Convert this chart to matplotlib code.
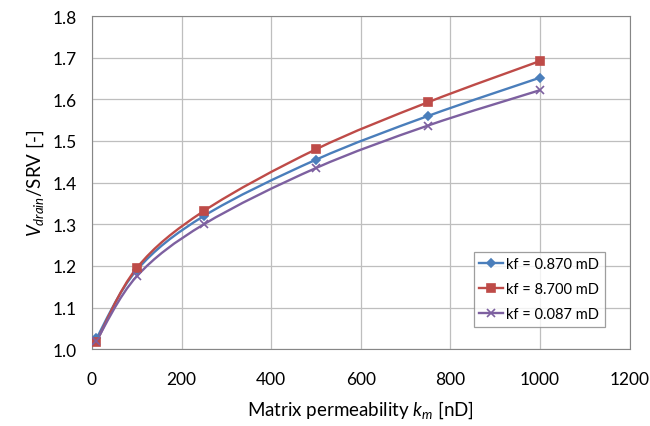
import numpy as np
import matplotlib.pyplot as plt
from matplotlib.path import Path
from matplotlib.patches import PathPatch

plt.rcParams['font.family'] = ['Lato', 'DejaVu Sans']
plt.rcParams['mathtext.fontset'] = 'custom'
plt.rcParams['mathtext.it'] = 'Lato:italic'
plt.rcParams['mathtext.rm'] = 'Lato'

# data
km = [10, 100, 250, 500, 750, 1000]
kf_0870 = [1.026, 1.190, 1.320, 1.455, 1.560, 1.652]
kf_8700 = [1.018, 1.195, 1.332, 1.480, 1.593, 1.692]
kf_0087 = [1.020, 1.175, 1.300, 1.435, 1.537, 1.622]
labels = ["kf = 0.870 mD", "kf = 8.700 mD", "kf = 0.087 mD"]
colors = ["#4A7EBB", "#BE4B48", "#7D60A0"]
markers = ["D", "s", "x"]
msizes = [4, 5.5, 6]


def smooth_path(x, y):
    # Excel style smoothed line: cubic bezier through the points
    x = np.asarray(x, float)
    y = np.asarray(y, float)
    n = len(x)
    verts = [(x[0], y[0])]
    codes = [Path.MOVETO]
    for i in range(n - 1):
        x0, y0 = (x[i - 1], y[i - 1]) if i > 0 else (x[i], y[i])
        x3, y3 = (x[i + 2], y[i + 2]) if i + 2 < n else (x[i + 1], y[i + 1])
        c1 = (x[i] + (x[i + 1] - x0) / 6, y[i] + (y[i + 1] - y0) / 6)
        c2 = (x[i + 1] - (x3 - x[i]) / 6, y[i + 1] - (y3 - y[i]) / 6)
        verts += [c1, c2, (x[i + 1], y[i + 1])]
        codes += [Path.CURVE4] * 3
    return Path(verts, codes)


fig = plt.figure(figsize=(6.5, 4.27), dpi=100)
ax = fig.add_axes([0.1415, 0.18, 0.827, 0.78])

for ys, lab, c, m, ms in zip([kf_0870, kf_8700, kf_0087], labels, colors, markers, msizes):
    ax.add_patch(PathPatch(smooth_path(km, ys), fill=False, edgecolor=c, lw=1.7, zorder=3))
    ax.plot(km, ys, ls="none", marker=m, color=c, ms=ms, mew=1.2, zorder=4)
    ax.plot([], [], color=c, marker=m, lw=1.7, ms=ms, mew=1.2, label=lab)

ax.set_xlim(0, 1200)
ax.set_ylim(1.0, 1.8)
ax.set_xticks(np.arange(0, 1201, 200))
ax.set_yticks(np.arange(1.0, 1.81, 0.1))
ax.yaxis.set_major_formatter(plt.FormatStrFormatter('%.1f'))
ax.grid(True, color="#BEBEBE", lw=0.9)
ax.set_axisbelow(True)
for s in ax.spines.values():
    s.set_color("#868686")
ax.tick_params(colors="#868686", labelcolor="black", labelsize=12.5, length=0)
ax.tick_params(axis="x", pad=16)
ax.tick_params(axis="y", pad=11)

ax.set_xlabel(r"Matrix permeability $k_m$ [nD]", fontsize=13.5, labelpad=8)
ax.set_ylabel(r"$V_{drain}$/SRV [-]", fontsize=13.5, labelpad=5)

leg = ax.legend(loc="lower right", bbox_to_anchor=(0.9535, 0.066), borderaxespad=0,
                fontsize=10.5, frameon=True, fancybox=False, edgecolor="#868686",
                handlelength=1.6, labelspacing=0.75, borderpad=0.4, handletextpad=0.2)
leg.get_frame().set_linewidth(0.9)

fig.savefig("out.png", dpi=100)
